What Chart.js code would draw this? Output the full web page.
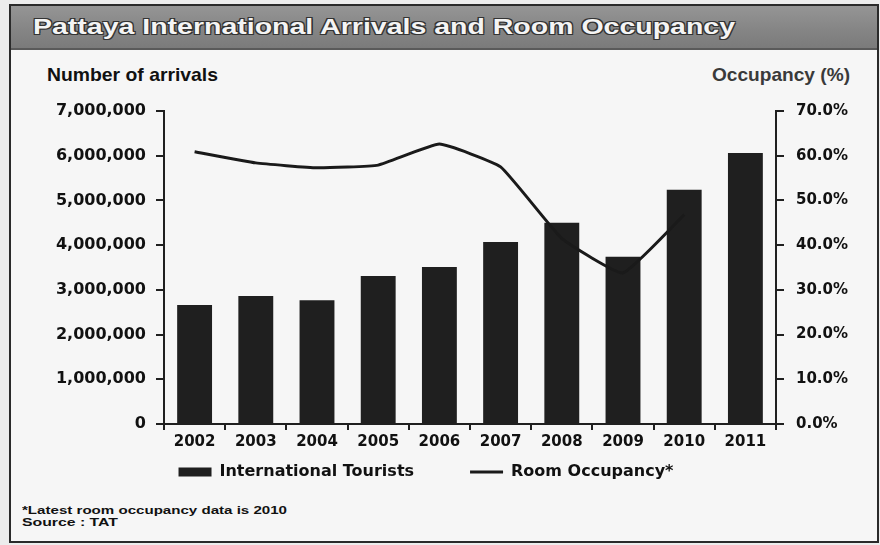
<!DOCTYPE html>
<html>
<head>
<meta charset="utf-8">
<script src="https://cdn.jsdelivr.net/npm/chart.js@4.4.1/dist/chart.umd.min.js"></script>
<style>
  html, body { margin: 0; padding: 0; }
  body { width: 880px; height: 545px; background: #ececec; position: relative; overflow: hidden; font-family: "Liberation Sans", Arial, sans-serif; }
  #frame { position: absolute; left: 9px; top: 4px; width: 866px; height: 535px; border: 2px solid #2a2a2a; background: #f6f6f6; }
  #band { position: absolute; left: 11px; top: 6px; width: 866px; height: 42px; background: linear-gradient(#959595, #848484 60%, #7b7b7b); border-bottom: 2px solid #5a5a5a; }
  .txt { position: absolute; white-space: nowrap; transform-origin: 0 50%; display: inline-block; }
  #title { left: 33px; top: 14px; font-size: 22px; line-height: 26px; font-weight: bold; color: #f4f4f4; text-shadow: 1px 1px 0 #333, -1px -1px 0 #333, 1px -1px 0 #333, -1px 1px 0 #333; }
  #ylab { left: 47px; top: 64px; font-size: 19px; line-height: 22px; font-weight: bold; color: #111; }
  #y2lab { left: 712px; top: 64px; font-size: 19px; line-height: 22px; font-weight: bold; color: #3a3a3a; }
  #note1 { left: 22px; top: 504px; font-size: 11px; line-height: 13px; font-weight: bold; color: #111; }
  #note2 { left: 22px; top: 516px; font-size: 11px; line-height: 13px; font-weight: bold; color: #111; }
  #wrap { position: absolute; left: 0; top: 0; width: 880px; height: 545px; }
</style>
</head>
<body>
<div id="frame"></div>
<div id="band"></div>
<div class="txt" id="title">Pattaya International Arrivals and Room Occupancy</div>
<div class="txt" id="ylab">Number of arrivals</div>
<div class="txt" id="y2lab">Occupancy (%)</div>
<div class="txt" id="note1">*Latest room occupancy data is 2010</div>
<div class="txt" id="note2">Source : TAT</div>
<div id="wrap"><canvas id="c" width="880" height="545"></canvas></div>
<script>
// ---- data ----
const years = ['2002', '2003', '2004', '2005', '2006', '2007', '2008', '2009', '2010', '2011'];
const arrivals = [2660000, 2860000, 2770000, 3310000, 3510000, 4070000, 4500000, 3740000, 5240000, 6060000];
const occupancy = [60.9, 58.4, 57.3, 57.9, 62.6, 57.5, 41.5, 33.8, 46.8, null];
const seriesNames = ['International Tourists', 'Room Occupancy*'];

// fit header texts to reference widths
function fitWidth(id, w) {
  const el = document.getElementById(id);
  const r = el.getBoundingClientRect().width;
  el.style.transform = 'scaleX(' + (w / r) + ')';
}
fitWidth('title', 702);
fitWidth('ylab', 171);
fitWidth('y2lab', 138);
fitWidth('note1', 265);
fitWidth('note2', 96);

const INK = '#1f1f1f';
const legendRowCenter = 472;
const legendLeftShift = 14;

const legendPlace = {
  id: 'legendPlace',
  afterLayout(chart) {
    const l = chart.legend;
    const lo = l.options.labels;
    const fs = lo.font.size;
    const itemH = Math.max(fs, lo.boxHeight);
    const shift = (l.top + lo.padding + itemH / 2) - legendRowCenter;
    l.top -= shift; l.bottom -= shift;
    l.left -= legendLeftShift; l.right -= legendLeftShift;
  }
};

Chart.defaults.font.family = '"DejaVu Sans", "Liberation Sans", sans-serif';
Chart.defaults.font.weight = 'bold';
Chart.defaults.color = '#111';

new Chart(document.getElementById('c'), {
  data: {
    labels: years,
    datasets: [
      {
        type: 'bar',
        label: seriesNames[0],
        data: arrivals,
        backgroundColor: INK,
        borderColor: '#111',
        borderWidth: 0,
        barPercentage: 0.57,
        categoryPercentage: 1.0,
        yAxisID: 'y',
        order: 1,
        pointStyle: 'rect'
      },
      {
        type: 'line',
        label: seriesNames[1],
        data: occupancy,
        borderColor: '#1a1a1a',
        backgroundColor: '#1a1a1a',
        borderWidth: 3,
        pointRadius: 0,
        tension: 0.12,
        spanGaps: false,
        yAxisID: 'y2',
        order: 0,
        pointStyle: 'line'
      }
    ]
  },
  options: {
    responsive: false,
    animation: false,
    layout: { padding: { top: 111, left: 0, right: 0, bottom: 9 } },
    plugins: {
      legend: {
        position: 'bottom',
        labels: {
          usePointStyle: true,
          pointStyleWidth: 33,
          boxHeight: 9,
          padding: 56,
          color: '#111',
          font: { size: 16, weight: 'bold' },
          sort: (a, b) => a.datasetIndex - b.datasetIndex
        }
      },
      tooltip: { enabled: false },
      title: { display: false }
    },
    scales: {
      x: {
        type: 'category',
        offset: true,
        grid: { display: true, offset: true, drawOnChartArea: false, drawTicks: true, tickLength: 6, color: INK, lineWidth: 2 },
        border: { display: true, color: INK, width: 2 },
        ticks: { padding: 3, font: { size: 15, weight: 'bold' }, color: '#111', maxRotation: 0, autoSkip: false },
        afterFit: s => { s.height = 30; }
      },
      y: {
        position: 'left',
        min: 0, max: 7000000,
        grid: { display: true, drawOnChartArea: false, drawTicks: true, tickLength: 8, color: INK, lineWidth: 2 },
        border: { display: true, color: INK, width: 2 },
        ticks: {
          stepSize: 1000000, padding: 10, color: '#111',
          font: { size: 16, weight: 'bold' },
          callback: v => Number(v).toLocaleString('en-US')
        },
        afterFit: s => { s.width = 164; }
      },
      y2: {
        position: 'right',
        min: 0, max: 70,
        grid: { display: true, drawOnChartArea: false, drawTicks: true, tickLength: 8, color: INK, lineWidth: 2 },
        border: { display: true, color: INK, width: 2 },
        ticks: {
          stepSize: 10, padding: 12, color: '#111',
          font: { size: 15, weight: 'bold' },
          callback: v => Number(v).toFixed(1) + '%'
        },
        afterFit: s => { s.width = 104; }
      }
    }
  },
  plugins: [legendPlace]
});
</script>
</body>
</html>
